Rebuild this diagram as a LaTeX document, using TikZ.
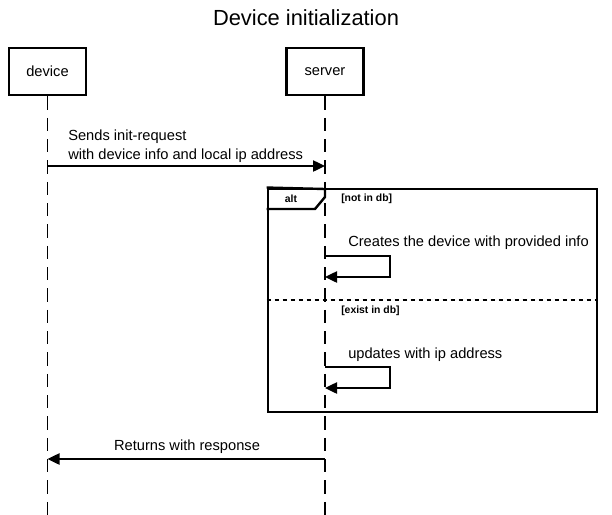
\documentclass[tikz,border=0pt]{standalone}
\usepackage{xcolor}
\usepackage{fontspec}
\setmainfont{Liberation Sans}
\usetikzlibrary{arrows.meta}
\tikzstyle{actor} = [rectangle, draw=black, line width=2.2pt, minimum width=57.75pt, minimum height=35.25pt, font=\fontsize{11}{13}\selectfont]
\tikzstyle{lifeline} = [draw=black, line width=1pt, dash pattern=on 10pt off 6pt]
\tikzstyle{msg} = [line width=1pt, -{Triangle[length=9pt, width=8.5pt]}]
\tikzstyle{msgtext} = [font=\fontsize{11}{14.25}\selectfont, inner sep=0pt, align=left]
\tikzstyle{frame} = [rectangle, draw=black, line width=2.2pt, minimum width=246.75pt, minimum height=167.25pt]
\tikzstyle{guard} = [font=\fontsize{7.8}{9}\selectfont\bfseries, inner sep=0pt]
\tikzstyle{divider} = [line width=1.5pt, dash pattern=on 3.5pt off 2.5pt]

\begin{document}
\begin{tikzpicture}[x=0.75pt, y=-0.75pt]
	\useasboundingbox (0,0) rectangle (612,515);

	\node (title) at (306,18) [font=\fontsize{16.4}{20}\selectfont] {Device initialization};

	\node (device) [actor] at (47.5,71.5) {device};
	\node (server) [actor] at (325,71.5) {server};

	\coordinate (deviceEnd) at (47.5,515);
	\coordinate (serverEnd) at (325,515);
	\draw [lifeline] (device) -- (deviceEnd);
	\draw [lifeline] (server) -- (serverEnd);

	% init request
	\coordinate (devInit) at (47.5,166);
	\coordinate (srvInit) at (325,166);
	\draw [msg] (devInit) -- (srvInit);
	\node (initText) [msgtext, anchor=west] at (68,146) {Sends init-request\\with device info and local ip address};

	% alt frame
	\node (alt) [frame] at (432.5,300.5) {};
	\draw [line width=1.8pt] (alt.north west) -- (325,189) -- (325,197) -- (315,209) -- (alt.west |- 0,209);
	\node (altText) [guard] at (291,199) {alt};
	\node (notInDb) [guard, anchor=west] at (341,199) {[not in db]};
	\draw [divider] (alt.west |- 0,300) -- (alt.east |- 0,300);
	\node (existInDb) [guard, anchor=west] at (341,311) {[exist in db]};

	% create device
	\coordinate (createStart) at (325,256);
	\coordinate (createEnd) at (325,277);
	\draw [msg] (createStart) -- (390,256) -- (390,277) -- (createEnd);
	\node (createText) [msgtext, anchor=west] at (348,243) {Creates the device with provided info};

	% update ip
	\coordinate (updateStart) at (325,367);
	\coordinate (updateEnd) at (325,388);
	\draw [msg] (updateStart) -- (390,367) -- (390,388) -- (updateEnd);
	\node (updateText) [msgtext, anchor=west] at (348,355) {updates with ip address};

	% response
	\coordinate (srvResp) at (325,459);
	\coordinate (devResp) at (47.5,459);
	\draw [msg] (srvResp) -- (devResp);
	\node (respText) [msgtext] at (187,447) {Returns with response};

\end{tikzpicture}
\end{document}
